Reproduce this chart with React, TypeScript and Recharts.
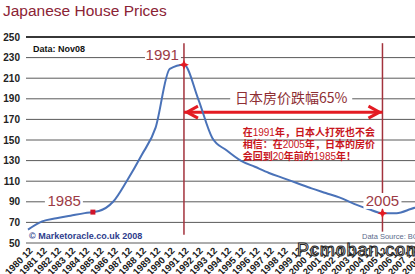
import React from 'react';
import { LineChart, Line, XAxis, YAxis, CartesianGrid, ReferenceLine, ReferenceDot } from 'recharts';

// year-end index
const years = [
  '1980 12', '1981 12', '1982 12', '1983 12', '1984 12', '1985 12', '1986 12', '1987 12',
  '1988 12', '1989 12', '1990 12', '1991 12', '1992 12', '1993 12', '1994 12', '1995 12',
  '1996 12', '1997 12', '1998 12', '1999 12', '2000 12', '2001 12', '2002 12', '2003 12',
  '2004 12', '2005 12', '2006 12', '2007 12', '2008 12',
];
const prices = [
  63, 71, 74, 76.5, 79, 81, 90, 111,
  135, 162, 219, 223, 190, 152, 140, 130,
  124, 118, 113, 108, 103, 98.5, 94, 88,
  83, 79, 79, 83, 88,
];
const yTicks = [50, 70, 90, 110, 130, 150, 170, 190, 210, 230, 250];

const data = years.map((year, i) => ({ year, price: prices[i] }));

const RED = '#E31B23';
const DARK_RED = '#A3323C';
const LABEL = '#9C3A45';

const XTick = ({ x, y, payload }: any) => (
  <g transform={`translate(${x + 3},${y + 4}) rotate(-45)`}>
    <text x={0} y={0} dy="0.35em" textAnchor="end" fontSize={9.5} fontWeight="bold" fill="#1a1a1a"
      fontFamily="Liberation Sans, Arial, sans-serif">
      {payload.value}
    </text>
  </g>
);

// text placed at a data point, with an optional white patch behind it
const note = (dx: number, dy: number, body: React.ReactNode) => (p: any) => (
  <g transform={`translate(${p.cx + dx},${p.cy + dy})`}>{body}</g>
);

const yearLabel = (txt: string, anchor: 'end' | 'middle', w: number) => (
  <g>
    <rect x={anchor === 'end' ? -w : -w / 2} y={-8} width={w} height={16} fill="#fff" />
    <text x={anchor === 'end' ? -2 : 0} y={0} dy="0.36em" textAnchor={anchor} fontSize={15}
      fill={LABEL} fontFamily="Liberation Sans, Arial, sans-serif">{txt}</text>
  </g>
);

const star = (p: any) => (
  <polygon
    points={`${p.cx},${p.cy - 5} ${p.cx + 1.5},${p.cy - 1.5} ${p.cx + 5},${p.cy} ${p.cx + 1.5},${p.cy + 1.5} ${p.cx},${p.cy + 5} ${p.cx - 1.5},${p.cy + 1.5} ${p.cx - 5},${p.cy} ${p.cx - 1.5},${p.cy - 1.5}`}
    fill={RED}
  />
);

const num = (s: string) => <tspan fontWeight="normal" fontFamily="Liberation Sans, Arial, sans-serif">{s}</tspan>;

const cnText = (
  <text fontSize={10} fontWeight="bold" fill="#C8161D" fontFamily="Noto Sans CJK SC, sans-serif">
    <tspan x={0} y={0} dy="0.35em">在{num('1991')}年，日本人打死也不会</tspan>
    <tspan x={0} y={12} dy="0.35em">相信：在{num('2005')}年，日本的房价</tspan>
    <tspan x={0} y={24} dy="0.35em">会回到{num('20')}年前的{num('1985')}年！</tspan>
  </text>
);

const App: React.FC = () => {
  return (
    <div style={{ position: 'absolute', left: 0, top: 0, width: 415, height: 274, overflow: 'hidden', background: '#fff' }}>
      <LineChart width={432} height={274} data={data} margin={{ top: 37, right: 7, left: 0, bottom: 0 }}>
        <CartesianGrid vertical={false} stroke="#5a5a5a" />
        <XAxis dataKey="year" interval={0} tick={<XTick />} tickLine={false} axisLine={false}
          tickSize={0} height={31} padding={{ left: 2, right: 0 }} />
        <YAxis domain={[50, 250]} ticks={yTicks} interval={0} width={26} tickLine={false} axisLine={false}
          tickSize={0} tickMargin={6}
          tick={{ fontSize: 10, fontWeight: 'bold', fill: '#222', fontFamily: 'Liberation Sans, Arial, sans-serif' }} />
        <ReferenceLine y={250} stroke="#111" strokeWidth={1.5} />
        <ReferenceLine segment={[{ x: '1991 12', y: 244 }, { x: '1991 12', y: 58 }]} stroke={DARK_RED} strokeWidth={1.5} />
        <ReferenceLine segment={[{ x: '2005 12', y: 244 }, { x: '2005 12', y: 61 }]} stroke={DARK_RED} strokeWidth={1.5} />
        <ReferenceLine segment={[{ x: '1991 12', y: 177 }, { x: '2005 12', y: 177 }]} stroke={RED} strokeWidth={3} />
        <Line type="monotone" dataKey="price" stroke="#4A72B8" strokeWidth={2} dot={false} isAnimationActive={false} />
        <ReferenceDot x="1991 12" y={177} shape={note(0, 0,
          <polyline points="14,-6 3,0 14,6" fill="none" stroke={RED} strokeWidth={3} />)} />
        <ReferenceDot x="2005 12" y={177} shape={note(0, 0,
          <polyline points="-14,-6 -3,0 -14,6" fill="none" stroke={RED} strokeWidth={3} />)} />
        <ReferenceDot x="1998 12" y={190.8} shape={note(8, 0,
          <g>
            <rect x={-61} y={-8} width={122} height={16} fill="#fff" />
            <text x={0} y={0} dy="0.36em" textAnchor="middle" fontSize={14} fill="#8E2E33"
              fontFamily="Noto Sans CJK SC, sans-serif">日本房价跌幅65%</text>
          </g>)} />
        <ReferenceDot x="1995 12" y={156.8} shape={note(2, 0, cnText)} />
        <ReferenceDot x="1991 12" y={232.5} shape={note(-3, 0, yearLabel('1991', 'end', 36))} />
        <ReferenceDot x="1985 12" y={90.8} shape={note(-16, 0, yearLabel('1985', 'end', 38))} />
        <ReferenceDot x="2005 12" y={90.8} shape={note(0, 0, yearLabel('2005', 'middle', 38))} />
        <ReferenceDot x="1985 12" y={80} shape={note(-6, 0,
          <rect x={-2.5} y={-2.5} width={5} height={5} fill="#D0142A" />)} />
        <ReferenceDot x="1991 12" y={223} shape={star} />
        <ReferenceDot x="2005 12" y={79} shape={star} />
      </LineChart>

      <div style={{ position: 'absolute', left: 3, top: 2, fontSize: 15.5, color: '#8B2335', fontFamily: 'Liberation Sans, Arial, sans-serif', whiteSpace: 'nowrap' }}>
        Japanese House Prices
      </div>
      <div style={{ position: 'absolute', left: 33, top: 44, fontSize: 9, fontWeight: 'bold', color: '#111', fontFamily: 'Liberation Sans, Arial, sans-serif', whiteSpace: 'nowrap' }}>
        Data: Nov08
      </div>
      <div style={{ position: 'absolute', left: 29, top: 231, fontSize: 9, fontWeight: 'bold', color: '#2E3C8C', fontFamily: 'Liberation Sans, Arial, sans-serif', whiteSpace: 'nowrap' }}>
        © Marketoracle.co.uk 2008
      </div>
      <div style={{ position: 'absolute', left: 362, top: 232, fontSize: 7.5, color: '#5B6B8B', fontFamily: 'Liberation Sans, Arial, sans-serif', whiteSpace: 'nowrap' }}>
        Data Source: BOJ
      </div>
      <div style={{ position: 'absolute', left: 297, top: 240, fontSize: 18, color: '#fff', WebkitTextStroke: '1px #222', fontFamily: 'Liberation Sans, Arial, sans-serif', whiteSpace: 'nowrap', letterSpacing: 0.9 }}>
        Pcmoban.com
      </div>
    </div>
  );
};

export default App;
